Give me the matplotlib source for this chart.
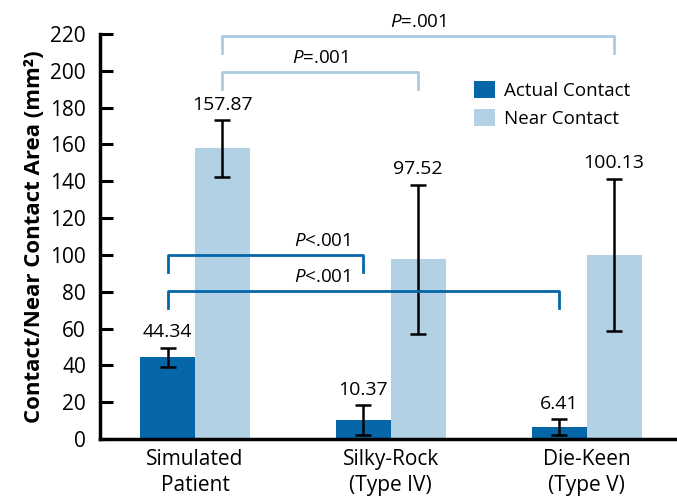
import matplotlib
matplotlib.use("Agg")
import matplotlib.pyplot as plt
import numpy as np

plt.rcParams['font.family'] = ['Open Sans', 'DejaVu Sans']
plt.rcParams['mathtext.fontset'] = 'custom'
plt.rcParams['mathtext.it'] = 'Open Sans:italic'
plt.rcParams['mathtext.rm'] = 'Open Sans'

categories = ['Simulated\nPatient', 'Silky-Rock\n(Type IV)', 'Die-Keen\n(Type V)']
actual = [44.34, 10.37, 6.41]
actual_err = [5.2, 8.0, 4.2]
near = [157.87, 97.52, 100.13]
near_err = [15.3, 40.5, 41.2]
series_names = ['Actual Contact', 'Near Contact']

dark = '#0566a8'
light = '#b3d1e5'
bw = 0.28

fig = plt.figure(figsize=(6.77, 5.0), dpi=100)
ax = fig.add_axes([0.1477, 0.122, 0.852, 0.81])

x = np.arange(len(categories))
xa = x - bw / 2
xn = x + bw / 2
ax.bar(xa, actual, bw, color=dark, label=series_names[0])
ax.bar(xn, near, bw, color=light, label=series_names[1])
ax.errorbar(xa, actual, yerr=actual_err, fmt='none', ecolor='black', elinewidth=1.8, capsize=6, capthick=1.8)
ax.errorbar(xn, near, yerr=near_err, fmt='none', ecolor='black', elinewidth=1.8, capsize=6, capthick=1.8)

for xs, vals, errs in [(xa, actual, actual_err), (xn, near, near_err)]:
    for xi, v, e in zip(xs, vals, errs):
        ax.text(xi, v + e + 3.5, f'{v:.2f}', ha='center', va='bottom', fontsize=14)

def bracket(x0, x1, y, color, label, tx=None):
    ax.plot([x0, x0, x1, x1], [y - 9.5, y, y, y - 9.5], color=color, lw=2, clip_on=False)
    if tx is None:
        tx = (x0 + x1) / 2
    ax.text(tx, y + 2.5, label, ha='center', va='bottom', fontsize=13.5)

bracket(xn[0], xn[2], 219, '#a9cbe3', '$\\mathit{P}$=.001')
bracket(xn[0], xn[1], 199.5, '#a9cbe3', '$\\mathit{P}$=.001')
bracket(xa[0], xa[1], 100, dark, '$\\mathit{P}$<.001', tx=0.65)
bracket(xa[0], xa[2], 80.5, dark, '$\\mathit{P}$<.001', tx=0.65)

ax.set_xlim(-0.485, 2.46)
ax.set_ylim(0, 220)
ax.set_yticks(np.arange(0, 221, 20))
ax.set_xticks(x)
ax.set_xticklabels(categories, fontsize=15, linespacing=1.3)
ax.tick_params(axis='y', direction='in', length=9, width=2.2, labelsize=15, pad=10)
ax.tick_params(axis='x', length=0, pad=7)
for s in ['top', 'right']:
    ax.spines[s].set_visible(False)
for s in ['left', 'bottom']:
    ax.spines[s].set_linewidth(2.5)
ax.set_ylabel('Contact/Near Contact Area (mm²)', fontsize=16, fontweight='bold', labelpad=4)

ax.legend(loc='upper left', bbox_to_anchor=(0.62, 0.925), frameon=False, fontsize=13.5,
          handlelength=1.1, handleheight=1.0, handletextpad=0.5, labelspacing=0.5)

fig.savefig('out.png', dpi=100)
